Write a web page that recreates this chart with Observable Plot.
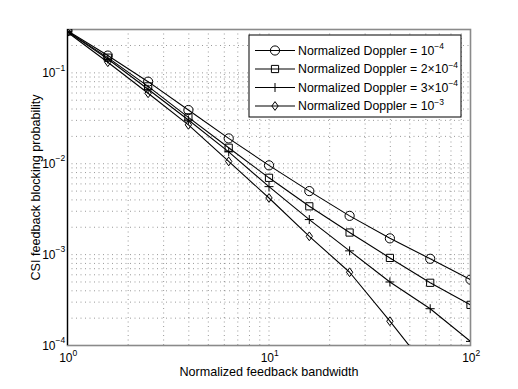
<!DOCTYPE html>
<html><head><meta charset="utf-8">
<script src="https://cdn.jsdelivr.net/npm/d3@7"></script>
<script src="https://cdn.jsdelivr.net/npm/@observablehq/plot@0.6"></script>
<style>body{margin:0;background:#fff}</style>
</head><body><div id="chart"></div>
<script>
// ---- data ----
const bandwidth = [1, 1.585, 2.512, 3.981, 6.31, 10, 15.85, 25.12, 39.81, 63.1, 100];
const doppler1e4 = [0.29, 0.155, 0.080, 0.039, 0.019, 0.0096, 0.0050, 0.00267, 0.00151, 0.00090, 0.00053];
const doppler2e4 = [0.286, 0.147, 0.071, 0.0324, 0.0150, 0.0070, 0.0034, 0.00175, 0.00092, 0.00049, 0.00028];
const doppler3e4 = [0.284, 0.142, 0.066, 0.0303, 0.0135, 0.0056, 0.00243, 0.0011, 0.00050, 0.000254, 0.000111];
const doppler1e3 = [0.280, 0.131, 0.0596, 0.0268, 0.0106, 0.0042, 0.00159, 0.00064, 0.000185, 0.000051, 0.000013];
const seriesNames = ["1e-4", "2e-4", "3e-4", "1e-3"];
const legendBase = ["Normalized Doppler = 10", "Normalized Doppler = 2\u00d710", "Normalized Doppler = 3\u00d710", "Normalized Doppler = 10"];
const legendExp = ["\u22124", "\u22124", "\u22124", "\u22123"];
const xTickValues = [1, 10, 100];
const xTickExp = ["0", "1", "2"];
const yTickValues = [1e-4, 1e-3, 1e-2, 1e-1];
const yTickExp = ["\u22124", "\u22123", "\u22122", "\u22121"];
const xGrid = [2,3,4,5,6,7,8,9,10,20,30,40,50,60,70,80,90];
const yGrid = [2e-4,3e-4,4e-4,5e-4,6e-4,7e-4,8e-4,9e-4,1e-3,2e-3,3e-3,4e-3,5e-3,6e-3,7e-3,8e-3,9e-3,1e-2,2e-2,3e-2,4e-2,5e-2,6e-2,7e-2,8e-2,9e-2,0.1,0.2];
const xDomain = [1, 100];
const yDomain = [1e-4, 0.3];

// ---- custom MATLAB-like symbols (r = sqrt(size/pi)) ----
const R = s => Math.sqrt(s / Math.PI);
const symCircle = {draw(c, s){ const r = R(s); c.moveTo(r, 0); c.arc(0, 0, r, 0, 2*Math.PI); }};
const symSquare = {draw(c, s){ const r = R(s); c.rect(-r, -r, 2*r, 2*r); }};
const symPlus = {draw(c, s){ const r = R(s); c.moveTo(-r, 0); c.lineTo(r, 0); c.moveTo(0, -r); c.lineTo(0, r); }};
const symDiamond = {draw(c, s){ const r = R(s); c.moveTo(0, -r); c.lineTo(r*0.72, 0); c.lineTo(0, r); c.lineTo(-r*0.72, 0); c.closePath(); }};
const symbols = [symCircle, symSquare, symPlus, symDiamond];
const symR = [4.6, 3.6, 4.5, 4.4];

const allSeries = [doppler1e4, doppler2e4, doppler3e4, doppler1e3];
const rows = [];
allSeries.forEach((vals, k) => vals.forEach((v, i) => rows.push({s: seriesNames[k], k, x: bandwidth[i], y: v})));

const font = "Liberation Sans, Arial, Helvetica, sans-serif";
const marks = [
  Plot.ruleX(xGrid, {stroke: "#555", strokeOpacity: 0.6, strokeDasharray: "1,3.5"}),
  Plot.ruleY(yGrid, {stroke: "#555", strokeOpacity: 0.6, strokeDasharray: "1,3.5"}),
  Plot.frame({stroke: "#8a8a8a", strokeWidth: 1.6}),
  Plot.ruleX([1], {stroke: "#000", strokeWidth: 1.2}),
];
allSeries.forEach((vals, k) => {
  const d = rows.filter(r => r.k === k);
  marks.push(Plot.line(d, {x: "x", y: "y", stroke: "#000", strokeWidth: 1.1, clip: true}));
  marks.push(Plot.dot(d, {x: "x", y: "y", symbol: () => symbols[k], r: symR[k], stroke: "#000", strokeWidth: 1, fill: "none", clip: true}));
});
// tick labels
marks.push(Plot.text(xTickValues, {x: d => d, frameAnchor: "bottom", text: () => "10", textAnchor: "end", dx: 5, dy: 16, fontSize: 12}));
marks.push(Plot.text(xTickValues, {x: d => d, frameAnchor: "bottom", text: (d, i) => xTickExp[i], textAnchor: "start", dx: 5, dy: 10, fontSize: 8.5}));
marks.push(Plot.text(yTickValues, {y: d => d, frameAnchor: "left", text: () => "10", textAnchor: "end", dx: -12, dy: 0.5, fontSize: 12}));
marks.push(Plot.text(yTickValues, {y: d => d, frameAnchor: "left", text: (d, i) => yTickExp[i], textAnchor: "start", dx: -12, dy: -5, fontSize: 8.5}));
// axis titles
marks.push(Plot.text(["Normalized feedback bandwidth"], {frameAnchor: "bottom", text: d => d, textAnchor: "middle", dy: 30, fontSize: 12.6}));
marks.push(Plot.text(["CSI feedback blocking probability"], {
  x: () => xDomain[0], y: () => Math.sqrt(yDomain[0] * yDomain[1]),
  text: d => d, rotate: -90, textAnchor: "middle", dx: -32, fontSize: 12.6}));

const chart = Plot.plot({
  width: 518, height: 389,
  marginLeft: 67, marginRight: 48, marginTop: 29, marginBottom: 44,
  x: {type: "log", domain: xDomain, axis: null},
  y: {type: "log", domain: yDomain, axis: null},
  style: {fontFamily: font, fontSize: "12px", background: "white", color: "black", overflow: "visible"},
  marks
});
document.getElementById("chart").appendChild(chart);

// ---- legend (inside the axes, top-right) ----
const svg = d3.select(chart);
const lg = svg.append("g").attr("font-family", font).attr("text-anchor", "start");
const lx = 249, ly = 35, lw = 212, lh = 82;
lg.append("rect").attr("x", lx).attr("y", ly).attr("width", lw).attr("height", lh)
  .attr("fill", "white").attr("stroke", "black").attr("stroke-width", 1);
legendBase.forEach((t, k) => {
  const cy = 50.5 + k * 18.5;
  lg.append("line").attr("x1", 255).attr("x2", 295).attr("y1", cy).attr("y2", cy).attr("stroke", "black").attr("stroke-width", 1.1);
  lg.append("path").attr("d", d3.symbol(symbols[k], Math.PI * symR[k] * symR[k])())
    .attr("transform", `translate(275,${cy})`).attr("fill", "none").attr("stroke", "black");
  const tx = lg.append("text").attr("x", 298).attr("y", cy).attr("dy", "0.35em")
    .attr("font-size", 12.3).attr("text-anchor", "start");
  tx.append("tspan").text(t);
  tx.append("tspan").attr("dy", -5.5).attr("font-size", 8.5).text(legendExp[k]);
});
</script>
</body></html>
